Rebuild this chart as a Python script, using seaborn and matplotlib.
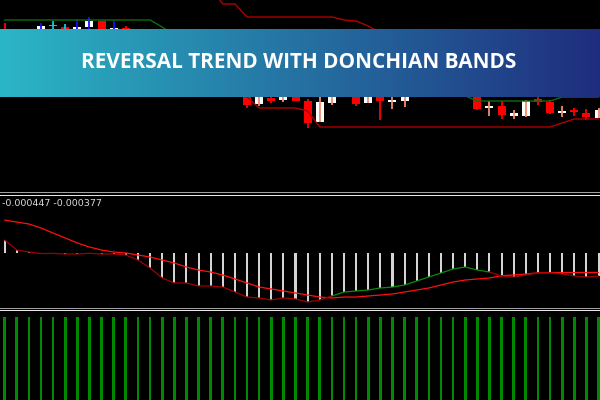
import numpy as np
import pandas as pd
import matplotlib
matplotlib.use("Agg")
import matplotlib.pyplot as plt
from matplotlib.lines import Line2D
import seaborn as sns

# ---------------- data ----------------
bars = list(range(50))

opens = [1.1968, 1.1965, 1.1955, 1.1960, 1.1974, 1.1973, 1.1960, 1.1973, 1.1979, 1.1960,
         1.1972, 1.1966, 1.1956, 1.1948, 1.1952, 1.1940, 1.1932, 1.1936, 1.1925, 1.1918,
         1.1912, 1.1896, 1.1902, 1.1900, 1.1912, 1.1899, 1.1878, 1.1897, 1.1908, 1.1910,
         1.1897, 1.1910, 1.1898, 1.1899, 1.1908, 1.1920, 1.1928, 1.1922, 1.1930, 1.1916,
         1.1892, 1.1894, 1.1884, 1.1884, 1.1901, 1.1898, 1.1887, 1.1890, 1.1887, 1.1882]
highs = [1.1977, 1.1968, 1.1967, 1.1977, 1.1979, 1.1976, 1.1981, 1.1983, 1.1979, 1.1979,
         1.1974, 1.1969, 1.1960, 1.1955, 1.1954, 1.1943, 1.1939, 1.1938, 1.1928, 1.1922,
         1.1915, 1.1915, 1.1905, 1.1915, 1.1915, 1.1901, 1.1903, 1.1912, 1.1920, 1.1912,
         1.1912, 1.1912, 1.1904, 1.1912, 1.1924, 1.1932, 1.1934, 1.1936, 1.1933, 1.1918,
         1.1899, 1.1899, 1.1890, 1.1900, 1.1903, 1.1900, 1.1894, 1.1892, 1.1891, 1.1892]
lows = [1.1950, 1.1952, 1.1950, 1.1955, 1.1965, 1.1955, 1.1955, 1.1968, 1.1950, 1.1955,
        1.1960, 1.1953, 1.1945, 1.1942, 1.1937, 1.1928, 1.1926, 1.1922, 1.1914, 1.1908,
        1.1892, 1.1894, 1.1897, 1.1898, 1.1899, 1.1872, 1.1878, 1.1895, 1.1905, 1.1894,
        1.1897, 1.1880, 1.1891, 1.1893, 1.1905, 1.1916, 1.1918, 1.1917, 1.1910, 1.1890,
        1.1884, 1.1881, 1.1881, 1.1883, 1.1895, 1.1886, 1.1883, 1.1884, 1.1880, 1.1882]
closes = [1.1955, 1.1958, 1.1962, 1.1974, 1.1974, 1.1960, 1.1973, 1.1979, 1.1955, 1.1972,
          1.1965, 1.1956, 1.1948, 1.1953, 1.1940, 1.1932, 1.1936, 1.1925, 1.1918, 1.1912,
          1.1895, 1.1910, 1.1899, 1.1912, 1.1899, 1.1877, 1.1898, 1.1908, 1.1915, 1.1896,
          1.1908, 1.1899, 1.1900, 1.1908, 1.1920, 1.1928, 1.1922, 1.1930, 1.1916, 1.1891,
          1.1894, 1.1885, 1.1887, 1.1899, 1.1898, 1.1887, 1.1889, 1.1888, 1.1883, 1.1890]
candle_tone = ["std", "std", "std", "blue", "cyan", "cyan", "blue", "blue", "std", "blue"] + ["std"] * 40

upper_green_bars = list(range(0, 16))
upper_green = [1.1980, 1.1980, 1.1980, 1.1980, 1.1980, 1.1980, 1.1980, 1.1980,
               1.1980, 1.1980, 1.1980, 1.1980, 1.1980, 1.1973, 1.1965, 1.1957]
upper_red_bars = list(range(16, 33))
upper_red = [1.2025, 1.2012, 1.1996, 1.1996, 1.1983, 1.1983, 1.1983, 1.1983, 1.1983,
             1.1983, 1.1983, 1.1983, 1.1980, 1.1979, 1.1974, 1.1967, 1.1960]
lower_red_bars = list(range(18, 50))
lower_red = [1.1925, 1.1914, 1.1903, 1.1892, 1.1892, 1.1892, 1.1892, 1.1889,
             1.1873, 1.1873, 1.1873, 1.1873, 1.1873, 1.1873, 1.1873, 1.1873,
             1.1873, 1.1873, 1.1873, 1.1873, 1.1873, 1.1873, 1.1873, 1.1873,
             1.1873, 1.1873, 1.1873, 1.1873, 1.1877, 1.1881, 1.1881, 1.1881]
lower_green_bars = list(range(36, 50))
lower_green = [1.1920, 1.1912, 1.1904, 1.1899, 1.1899, 1.1899, 1.1899, 1.1899,
               1.1899, 1.1899, 1.1903, 1.1903, 1.1903, 1.1903]

macd_main_e6 = [252, 58, 19, -10, -8, -19, -19, -6, -19, -19,
                -39, -136, -291, -485, -582, -582, -640, -640, -660, -757,
                -854, -873, -912, -873, -892, -951, -912, -834, -757, -737,
                -718, -679, -660, -621, -543, -466, -388, -310, -272, -330,
                -369, -450, -466, -427, -388, -388, -407, -446, -466, -447]
macd_signal_e6 = [640, 601, 563, 485, 388, 291, 194, 116, 58, 19,
                  0, -39, -78, -136, -194, -272, -330, -369, -427, -504,
                  -582, -660, -698, -737, -776, -815, -854, -873, -854, -854,
                  -834, -815, -795, -757, -718, -679, -621, -563, -524, -504,
                  -485, -440, -427, -407, -385, -382, -380, -379, -378, -377]
macd_main = [v * 1e-6 for v in macd_main_e6]
macd_signal = [v * 1e-6 for v in macd_signal_e6]

trend_bars = [1] * 50

title = "REVERSAL TREND WITH DONCHIAN BANDS"

# ---------------- styling ----------------
sns.set_theme(style="white")
plt.rcParams["font.family"] = ["DejaVu Sans"]

W, H = 600, 400
fig = plt.figure(figsize=(6, 4), dpi=100, facecolor="black")

def fy(px):
    return 1 - px / H

XLIM = (-0.38, 49.12)

def clean(ax):
    ax.set_facecolor("black")
    ax.set_xlim(*XLIM)
    ax.set_xticks([]); ax.set_yticks([])
    ax.set_xlabel(""); ax.set_ylabel("")
    for s in ax.spines.values():
        s.set_visible(False)

# ---- top price panel ----
ax1 = fig.add_axes([0, fy(192), 1, 192 / H])
df = pd.DataFrame({"bar": bars, "o": opens, "h": highs, "l": lows, "c": closes, "tone": candle_tone})
SALMON, RED, BLUE, CYAN, WHITE = "#f28b6e", "#ff0000", "#1010ff", "#12c6e0", "#ffffff"
for _, r in df.iterrows():
    bull = r.c >= r.o
    if r.tone == "blue":
        wick = BLUE
    elif r.tone == "cyan":
        wick = CYAN
    else:
        wick = SALMON if bull else RED
    body_col = WHITE if bull else RED
    h = abs(r.c - r.o)
    if h < 1e-9:
        body_col = wick
        h = 0.0001
    ax1.bar(r.bar, h, bottom=min(r.o, r.c), width=0.66, color=body_col, linewidth=0, zorder=2)
    ax1.vlines(r.bar, r.l, r.h, color=wick, linewidth=1.3, zorder=3)

DKGREEN, DKRED = "#0b6e0b", "#b00000"
sns.lineplot(x=upper_green_bars, y=upper_green, color=DKGREEN, linewidth=1.0, ax=ax1, zorder=4)
sns.lineplot(x=upper_red_bars, y=upper_red, color=DKRED, linewidth=1.0, ax=ax1, zorder=4)
sns.lineplot(x=lower_red_bars, y=lower_red, color=DKRED, linewidth=1.0, ax=ax1, zorder=4)
sns.lineplot(x=lower_green_bars, y=lower_green, color=DKGREEN, linewidth=1.0, ax=ax1, zorder=4)
ax1.set_ylim(1.2 - 0.0192, 1.2000)
clean(ax1)

# ---- MACD-like panel ----
ax2 = fig.add_axes([0, fy(306), 1, 110 / H])
sns.barplot(x=bars, y=macd_main, native_scale=True, width=0.17, color="#d4d4d4",
            saturation=1, linewidth=0, ax=ax2, zorder=2)
sns.lineplot(x=bars, y=macd_signal, color="#ff1010", linewidth=0.9, ax=ax2, zorder=4)
green_state = [m > s for m, s in zip(macd_main, macd_signal)]
seg_col = ["#0a8a0a" if (green_state[i] and green_state[i + 1]) else "#a00000" for i in range(49)]
runs = []
start = 0
for i in range(1, 49):
    if seg_col[i] != seg_col[start]:
        runs.append((start, i, seg_col[start]))
        start = i
runs.append((start, 49, seg_col[start]))
for a, b, col in runs:
    sns.lineplot(x=bars[a:b + 1], y=macd_main[a:b + 1], color=col, linewidth=0.9, ax=ax2, zorder=5)
ax2.set_ylim(-53 * 19.4e-6, 57 * 19.4e-6)
clean(ax2)
ax2.text(2 / W, 1 - (203 - 196) / 110, f"{macd_main[-1]:.6f} {macd_signal[-1]:.6f}",
         transform=ax2.transAxes, ha="left", va="center", fontsize=6.8, color="#dcdcdc")

# ---- bottom panel ----
ax3 = fig.add_axes([0, 0, 1, 89 / H])
sns.barplot(x=bars, y=trend_bars, native_scale=True, width=0.22, color="#008a00",
            saturation=1, linewidth=0, ax=ax3)
for p in ax3.patches:
    p.set_antialiased(False)
ax3.set_ylim(0, 1.072)
clean(ax3)

# ---- separators (pixel rows) ----
for row, c in [(192, "#a0a0a0"), (194, "#e6e6e6"), (307, "#a0a0a0"), (309, "#e6e6e6")]:
    yy = 1 - (row + 0.5) / H
    fig.add_artist(Line2D([0, 1], [yy, yy], transform=fig.transFigure, color=c,
                          linewidth=0.72, antialiased=False))

# ---- banner ----
axb = fig.add_axes([0, fy(97), 1, 68 / H], zorder=20)
left = np.array([0x2b, 0xb6, 0xc6]) / 255
right = np.array([0x1f, 0x2d, 0x7e]) / 255
t = np.linspace(0, 1, 600)[None, :, None]
grad = left[None, None, :] * (1 - t) + right[None, None, :] * t
axb.imshow(np.repeat(grad, 2, axis=0), aspect="auto", extent=(0, 1, 0, 1))
axb.set_xlim(0, 1); axb.set_ylim(0, 1); axb.axis("off")
txt = axb.text(0.498, (97 - 67.5) / 68, title, ha="center", va="baseline", color="white",
               fontsize=16, fontweight="bold", family=["Open Sans", "DejaVu Sans"],
               transform=axb.transAxes)
fig.canvas.draw()
bb = txt.get_window_extent(fig.canvas.get_renderer())
txt.set_fontsize(16 * 436 / bb.width)

fig.savefig("out.png", dpi=100, facecolor="black")
